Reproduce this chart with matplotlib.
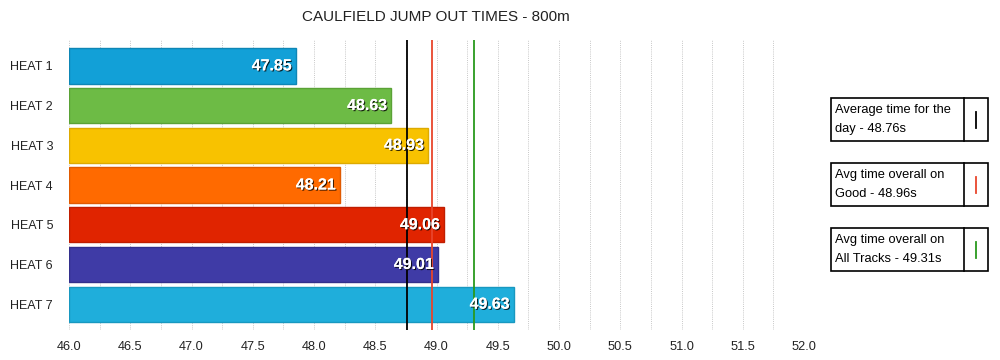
"""Caulfield jump out times - horizontal bar chart with reference lines."""

import matplotlib.pyplot as plt
import matplotlib.patheffects as pe
import numpy as np
from matplotlib.patches import Rectangle
from matplotlib.lines import Line2D

plt.rcParams["font.family"] = ["Liberation Sans", "DejaVu Sans"]

HEATS = ["HEAT 1", "HEAT 2", "HEAT 3", "HEAT 4", "HEAT 5", "HEAT 6", "HEAT 7"]
TIMES = [47.85, 48.63, 48.93, 48.21, 49.06, 49.01, 49.63]
BAR_COLORS = ["#12A0D7", "#6DBB45", "#F8C200", "#FF6A00", "#E02400", "#3F3BA6", "#1FAEDB"]
EDGE_COLORS = ["#0E86B5", "#5AA236", "#DDAA00", "#E05A00", "#C01E00", "#332F8C", "#1898C0"]

REF_LABELS = ["Average time for the\nday - 48.76s",
              "Avg time overall on\nGood - 48.96s",
              "Avg time overall on\nAll Tracks - 49.31s"]
REF_VALUES = [48.76, 48.96, 49.31]
REF_COLORS = ["#000000", "#E8452C", "#2A9A1E"]

XTICKS = np.arange(46.0, 52.01, 0.5)

W, H = 1000, 360
fig = plt.figure(figsize=(10, 3.6), dpi=100)
ax = fig.add_axes([69 / W, 1 - 330 / H, 735 / W, 290 / H])

y = np.arange(len(HEATS))
ax.barh(y, np.array(TIMES) - 46.0, left=46.0, height=0.89, color=BAR_COLORS,
        edgecolor=EDGE_COLORS, linewidth=1, zorder=2)
for yi, t in zip(y, TIMES):
    ax.text(t - 0.03, yi, f"{t:.2f}", ha="right", va="center", color="white",
            fontsize=11.5, fontweight="bold", zorder=5,
            path_effects=[pe.withSimplePatchShadow(offset=(0.8, -0.8), shadow_rgbFace="black", alpha=0.8),
                          pe.Normal()])

for v, c in zip(REF_VALUES, REF_COLORS):
    ax.axvline(v, color=c, linewidth=1.3, zorder=4)

ax.set_xlim(46.0, 52.0)
ax.set_ylim(len(HEATS) - 0.35, -0.65)
ax.set_yticks(y)
ax.set_yticklabels(HEATS, fontsize=9, color="#222222")
ax.set_xticks(XTICKS)
ax.set_xticklabels([f"{v:.1f}" for v in XTICKS], fontsize=9.2, color="#222222")
ax.set_xticks(np.arange(46.0, 52.01, 0.25), minor=True)
ax.tick_params(axis="both", length=0, which="both")
ax.tick_params(axis="y", pad=11.5)
ax.tick_params(axis="x", pad=8)
ax.grid(axis="x", which="both", color="#C8C8C8", linestyle=(0, (1, 1.2)), linewidth=0.7, zorder=0)
ax.set_axisbelow(True)
for s in ax.spines.values():
    s.set_visible(False)

fig.text(436 / W, 1 - 17 / H, "CAULFIELD JUMP OUT TIMES - 800m", ha="center", va="center",
         fontsize=11, color="#222222")

# legend boxes at right
boxes = [(98, 141), (163, 206), (228, 271)]
x0, x1, xdiv = 831, 988, 964
for (top, bot), label, c in zip(boxes, REF_LABELS, REF_COLORS):
    fig.add_artist(Rectangle((x0 / W, 1 - bot / H), (x1 - x0) / W, (bot - top) / H,
                             transform=fig.transFigure, facecolor="white", edgecolor="black",
                             linewidth=1.2))
    fig.add_artist(Line2D([xdiv / W, xdiv / W], [1 - top / H, 1 - bot / H],
                          transform=fig.transFigure, color="black", linewidth=1.2))
    mid = (top + bot) / 2
    fig.add_artist(Line2D([976 / W, 976 / W], [1 - (mid - 8) / H, 1 - (mid + 8) / H],
                          transform=fig.transFigure, color=c, linewidth=1.3))
    fig.text(835 / W, 1 - mid / H, label, ha="left", va="center", fontsize=9.3,
             linespacing=1.8, color="black")

fig.savefig("out.png", dpi=100)
